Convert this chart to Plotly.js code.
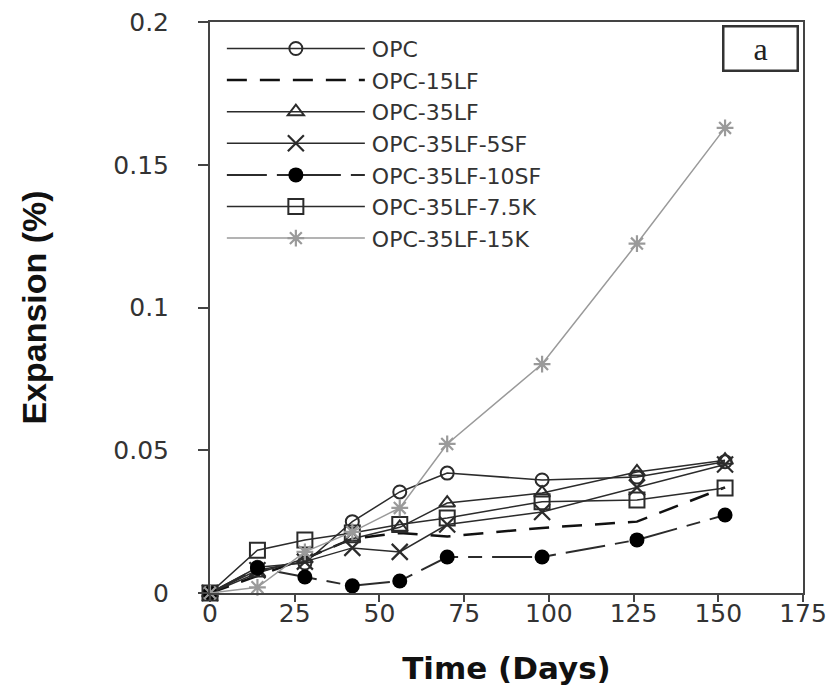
<!DOCTYPE html>
<html>
<head>
<meta charset="utf-8">
<script src="https://cdn.plot.ly/plotly-3.0.1.min.js"></script>
<style>body{margin:0;background:#fff}</style>
</head>
<body>
<div id="chart" style="width:838px;height:698px"></div>
<script>
// ---- data ----
const days = [0, 14, 28, 42, 56, 70, 98, 126, 152];
const seriesNames = ["OPC", "OPC-15LF", "OPC-35LF", "OPC-35LF-5SF", "OPC-35LF-10SF", "OPC-35LF-7.5K", "OPC-35LF-15K"];
const opc        = [0, 0.009, 0.0105, 0.025, 0.0354, 0.042, 0.0396, 0.0406, 0.046];
const opc15LF    = [0, 0.006, 0.012, 0.019, 0.021, 0.0198, 0.0228, 0.025, 0.037];
const opc35LF    = [0, 0.007, 0.012, 0.019, 0.023, 0.0315, 0.035, 0.0424, 0.0465];
const opc35LF5SF = [0, 0.008, 0.011, 0.0158, 0.0144, 0.024, 0.0284, 0.037, 0.045];
const opc35LF10SF= [0, 0.0088, 0.0056, 0.0025, 0.0042, 0.0126, 0.0126, 0.0186, 0.0273];
const opc35LF75K = [0, 0.015, 0.0186, 0.021, 0.024, 0.0263, 0.032, 0.0326, 0.0368];
const opc35LF15K = [0, 0.002, 0.0144, 0.0214, 0.0298, 0.0522, 0.0802, 0.1224, 0.1629];
const xTicks = [0, 25, 50, 75, 100, 125, 150, 175];
const yTicks = [0, 0.05, 0.1, 0.15, 0.2];
const yTickText = ["0", "0.05", "0.1", "0.15", "0.2"];
const panelLabel = "a";
const xTitle = "Time (Days)";
const yTitle = "Expansion (%)";

const dark = "#2b2b2b";
const gray = "#9a9a9a";

function tr(name, y, lineStyle, marker) {
  const t = {x: days, y: y, name: name, type: "scatter",
    mode: marker ? "lines+markers" : "lines",
    line: lineStyle, cliponaxis: false};
  if (marker) t.marker = marker;
  return t;
}

const data = [
  tr(seriesNames[0], opc, {color: dark, width: 1.5}, {symbol: "circle-open", size: 13, color: dark, line: {width: 2, color: dark}}),
  tr(seriesNames[1], opc15LF, {color: "#111", width: 2.5, dash: "20px,13px"}, null),
  tr(seriesNames[2], opc35LF, {color: dark, width: 1.5}, {symbol: "triangle-up-open", size: 14, color: dark, line: {width: 2, color: dark}}),
  tr(seriesNames[3], opc35LF5SF, {color: dark, width: 1.5}, {symbol: "x-thin-open", size: 16, color: dark, line: {width: 2.2, color: dark}}),
  tr(seriesNames[4], opc35LF10SF, {color: dark, width: 2, dash: "40px,10px,14px,10px"}, {symbol: "circle", size: 15, color: "#000"}),
  tr(seriesNames[5], opc35LF75K, {color: dark, width: 1.5}, {symbol: "square-open", size: 15, color: dark, line: {width: 2, color: dark}}),
  tr(seriesNames[6], opc35LF15K, {color: gray, width: 1.5}, {symbol: "asterisk-open", size: 14, color: gray, line: {width: 2.2, color: gray}})
];

const tickFont = {family: "DejaVu Sans", size: 25, color: "#333"};

const layout = {
  width: 838, height: 698,
  margin: {l: 210, r: 35, t: 22, b: 105},
  paper_bgcolor: "#fff", plot_bgcolor: "#fff",
  showlegend: true,
  legend: {x: 0.02, y: 0.99, xanchor: "left", yanchor: "top",
    bgcolor: "rgba(255,255,255,0)", borderwidth: 0, itemwidth: 140,
    font: {family: "DejaVu Sans", size: 22, color: "#333"}, tracegroupgap: 0},
  xaxis: {range: [0, 175], tickvals: xTicks, ticks: "outside", ticklen: 7, tickwidth: 2,
    tickcolor: "#444", showline: true, linewidth: 2, linecolor: "#444", mirror: true,
    showgrid: false, zeroline: false, tickfont: tickFont, ticklabelstandoff: -10,
    title: {text: xTitle, font: {family: "DejaVu Sans", size: 31, color: "#111", weight: "bold"}, standoff: 30}},
  yaxis: {range: [0, 0.2], tickvals: yTicks, ticktext: yTickText, ticks: "outside", ticklen: 10, tickwidth: 2,
    tickcolor: "#444", showline: true, linewidth: 2, linecolor: "#444", mirror: true,
    showgrid: false, zeroline: false, tickfont: tickFont, ticklabelstandoff: 24,
    title: {text: yTitle, font: {family: "Liberation Sans", size: 34, color: "#111", weight: "bold"}, standoff: 56}},
  annotations: [{
    text: panelLabel, xref: "paper", yref: "paper", x: 0.9275, y: 0.953,
    xanchor: "center", yanchor: "middle", showarrow: false,
    width: 68, height: 38, bordercolor: "#333", borderwidth: 2.5, borderpad: 2,
    font: {family: "Liberation Serif", size: 32, color: "#222"}
  }]
};

Plotly.newPlot("chart", data, layout, {displayModeBar: false, staticPlot: true}).then(function () {
  // lengthen the legend line samples to resemble the reference legend
  document.querySelectorAll(".legend .traces").forEach(function (g) {
    g.querySelectorAll("path.js-line").forEach(function (p) { p.setAttribute("d", "M5,0h138"); });
    g.querySelectorAll(".legendpoints path.scatterpts").forEach(function (p) {
      p.setAttribute("transform", "translate(74,0)");
    });
  });
});
</script>
</body>
</html>
